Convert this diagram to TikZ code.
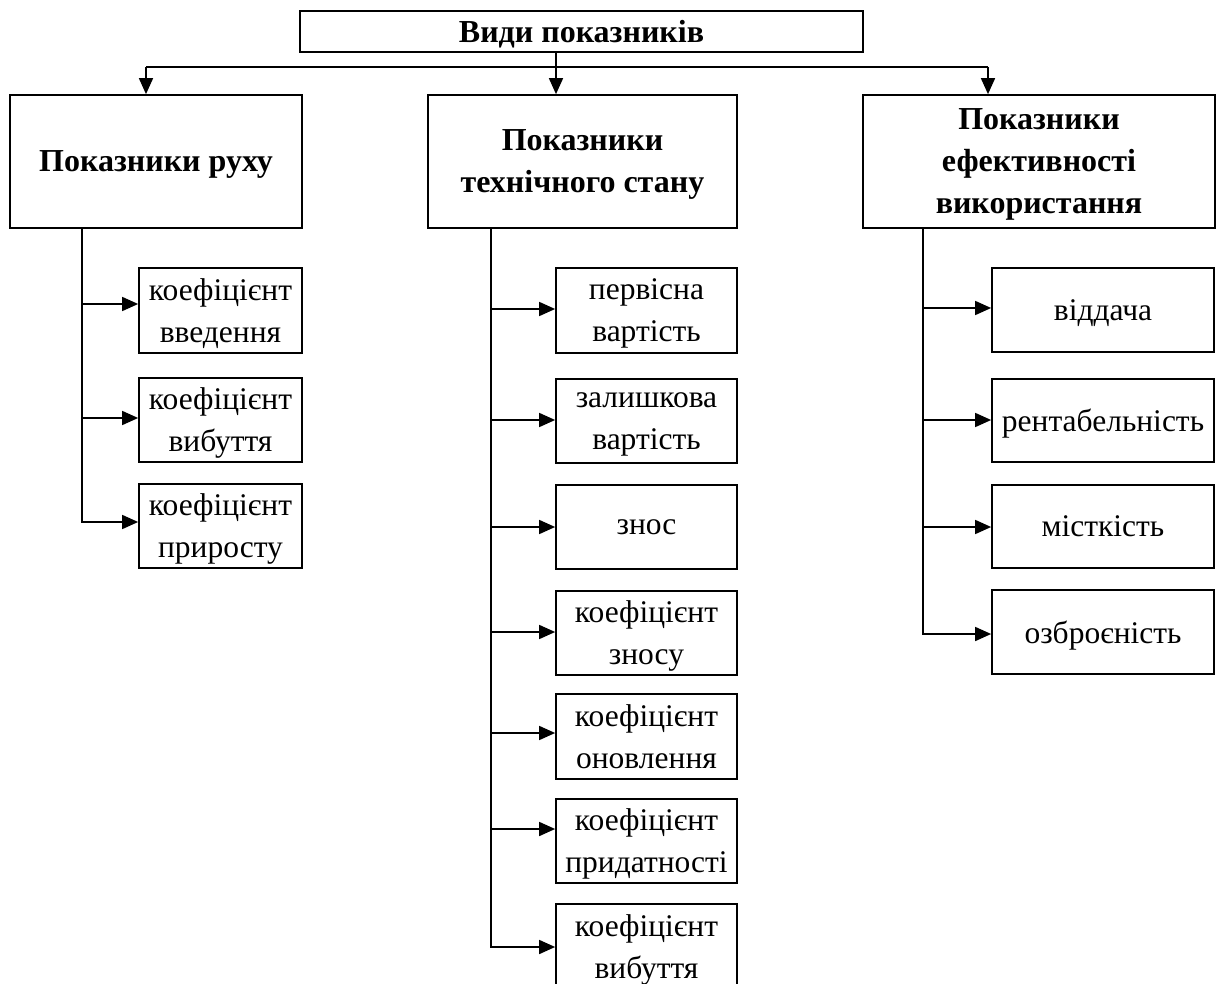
\documentclass[tikz,border=0pt]{standalone}
\usepackage{fontspec}
\setmainfont{Liberation Serif}
\usetikzlibrary{arrows.meta}
\tikzset{
  box/.style={draw, line width=1.7pt, inner sep=0pt, align=center, text depth=0pt},
  headbox/.style={box, font=\bfseries\fontsize{32}{42}\selectfont},
  itembox/.style={box, font=\fontsize{31.5}{42}\selectfont},
  conn/.style={line width=1.6pt},
  arr/.style={conn, -{Triangle[length=16pt,width=14pt]}}
}
\begin{document}
\begin{tikzpicture}[x=1pt,y=-1pt]
\useasboundingbox (0,0) rectangle (1221,984);
% top
\node[headbox, minimum width=563pt, minimum height=41pt] (top) at (581.5,31.5) {Види показників};
% headings
\node[headbox, minimum width=292pt, minimum height=133pt] (A) at (156,161.5) {Показники руху};
\node[headbox, minimum width=309pt, minimum height=133pt] (B) at (582.5,161.5) {Показники\\технічного стану};
\node[headbox, minimum width=352pt, minimum height=133pt] (C) at (1039,161.5) {Показники\\ефективності\\використання};
% top connectors
\coordinate (hL) at (146,67);
\coordinate (hR) at (988,67);
\coordinate (hM) at (556,52);
\draw[conn] (hL) -- (hR);
\draw[arr] (hL) -- (hL |- A.north);
\draw[arr] (hR) -- (hR |- C.north);
\draw[arr] (hM) -- (hM |- B.north);
% column A
\node[itembox, minimum width=163pt, minimum height=85pt] (a1) at (220.5,310.5) {коефіцієнт\\введення};
\node[itembox, minimum width=163pt, minimum height=84pt] (a2) at (220.5,420) {коефіцієнт\\вибуття};
\node[itembox, minimum width=163pt, minimum height=84pt] (a3) at (220.5,526) {коефіцієнт\\приросту};
\coordinate (tA) at (82,228);
\draw[arr] (tA) |- ([yshift=4pt]a3.west);
\draw[arr] ([yshift=6.5pt]a1.west -| tA) -- ([yshift=6.5pt]a1.west);
\draw[arr] ([yshift=2pt]a2.west -| tA) -- ([yshift=2pt]a2.west);
% column B
\node[itembox, minimum width=181pt, minimum height=85pt] (b1) at (646.5,310.5) {первісна\\вартість};
\node[itembox, minimum width=181pt, minimum height=84pt] (b2) at (646.5,421) {залишкова\\вартість};
\node[itembox, minimum width=181pt, minimum height=84pt] (b3) at (646.5,527) {знос};
\node[itembox, minimum width=181pt, minimum height=84pt] (b4) at (646.5,633) {коефіцієнт\\зносу};
\node[itembox, minimum width=181pt, minimum height=85pt] (b5) at (646.5,736.5) {коефіцієнт\\оновлення};
\node[itembox, minimum width=181pt, minimum height=84pt] (b6) at (646.5,841) {коефіцієнт\\придатності};
\node[itembox, minimum width=181pt, minimum height=86pt] (b7) at (646.5,947) {коефіцієнт\\вибуття};
\coordinate (tB) at (491,228);
\draw[arr] (tB) |- (b7.west);
\foreach \n/\d in {b1/1.5,b2/1,b3/0,b4/1,b5/3.5,b6/12}{
  \draw[arr] ([yshift=\d pt]\n.west -| tB) -- ([yshift=\d pt]\n.west);
}
% column C
\node[itembox, minimum width=222pt, minimum height=84pt] (c1) at (1103,310) {віддача};
\node[itembox, minimum width=222pt, minimum height=83pt] (c2) at (1103,420.5) {рентабельність};
\node[itembox, minimum width=222pt, minimum height=83pt] (c3) at (1103,526.5) {місткість};
\node[itembox, minimum width=222pt, minimum height=84pt] (c4) at (1103,632) {озброєність};
\coordinate (tC) at (923,228);
\draw[arr] (tC) |- ([yshift=-2pt]c4.west);
\foreach \n/\d in {c1/2,c2/0.5,c3/-0.5}{
  \draw[arr] ([yshift=\d pt]\n.west -| tC) -- ([yshift=\d pt]\n.west);
}
\end{tikzpicture}
\end{document}
